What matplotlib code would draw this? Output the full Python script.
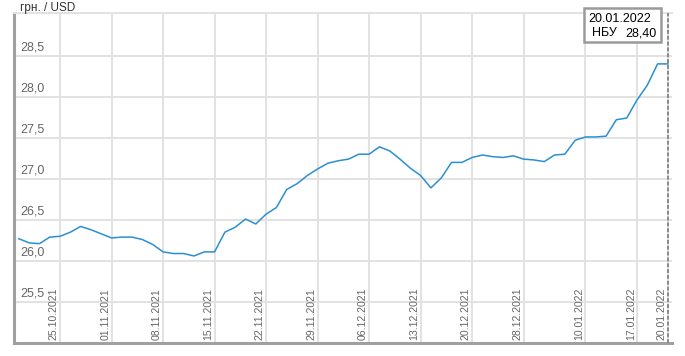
#!/usr/bin/env python3
"""NBU UAH/USD official rate, 19.10.2021 - 20.01.2022 (business days)."""

import matplotlib
matplotlib.use("Agg")
import matplotlib.pyplot as plt
from matplotlib.patches import Rectangle
from matplotlib.transforms import blended_transform_factory

# ---- Data -------------------------------------------------------------
dates = [
    "19.10.2021", "20.10.2021", "21.10.2021", "22.10.2021", "25.10.2021",
    "26.10.2021", "27.10.2021", "28.10.2021", "29.10.2021",
    "01.11.2021", "02.11.2021", "03.11.2021", "04.11.2021", "05.11.2021",
    "08.11.2021", "09.11.2021", "10.11.2021", "11.11.2021", "12.11.2021",
    "15.11.2021", "16.11.2021", "17.11.2021", "18.11.2021", "19.11.2021",
    "22.11.2021", "23.11.2021", "24.11.2021", "25.11.2021", "26.11.2021",
    "29.11.2021", "30.11.2021",
    "01.12.2021", "02.12.2021", "03.12.2021",
    "06.12.2021", "07.12.2021", "08.12.2021", "09.12.2021", "10.12.2021",
    "13.12.2021", "14.12.2021", "15.12.2021", "16.12.2021", "17.12.2021",
    "20.12.2021", "21.12.2021", "22.12.2021", "23.12.2021", "24.12.2021",
    "28.12.2021", "29.12.2021", "30.12.2021", "31.12.2021",
    "04.01.2022", "05.01.2022",
    "10.01.2022", "11.01.2022", "12.01.2022", "13.01.2022", "14.01.2022",
    "17.01.2022", "18.01.2022", "19.01.2022", "20.01.2022",
]
rates = [
    26.27, 26.22, 26.21, 26.29, 26.30, 26.35, 26.42, 26.38, 26.33,
    26.28, 26.29, 26.29, 26.26, 26.20,
    26.11, 26.09, 26.09, 26.06, 26.11,
    26.11, 26.35, 26.41, 26.51, 26.45,
    26.57, 26.65, 26.87, 26.94, 27.04,
    27.12, 27.19,
    27.22, 27.24, 27.30,
    27.30, 27.39, 27.34, 27.24, 27.13,
    27.04, 26.89, 27.01, 27.20, 27.20,
    27.26, 27.29, 27.27, 27.26, 27.28,
    27.24, 27.23, 27.21, 27.29,
    27.30, 27.47,
    27.51, 27.51, 27.52, 27.72, 27.74,
    27.96, 28.14, 28.40, 28.40,
]
tick_dates = ["25.10.2021", "01.11.2021", "08.11.2021", "15.11.2021",
              "22.11.2021", "29.11.2021", "06.12.2021", "13.12.2021",
              "20.12.2021", "28.12.2021", "10.01.2022", "17.01.2022",
              "20.01.2022"]
y_ticks = [25.5, 26.0, 26.5, 27.0, 27.5, 28.0, 28.5]

tip_date = "20.01.2022"
tip_label = "НБУ"
tip_value = "28,40"

# ---- Style ------------------------------------------------------------
plt.rcParams["font.family"] = ["Liberation Sans", "DejaVu Sans"]
GRID = "#e2e2e2"
AXIS = "#a0a0a0"
LABEL = "#666666"
LINE = "#2b8fd1"

W, H = 685, 356
fig = plt.figure(figsize=(W / 100, H / 100), dpi=100)
ax = fig.add_axes([14 / W, 13 / H, 658 / W, 330 / H])

x = list(range(len(dates)))
ax.plot(x, rates, color=LINE, linewidth=1.1, zorder=3)

ax.set_xlim(-0.47, 63.4)
ax.set_ylim(25.0, 29.02)

tick_pos = [dates.index(d) for d in tick_dates]
ax.set_xticks(tick_pos)
ax.set_yticks(y_ticks)
ax.tick_params(length=0, labelbottom=False, labelleft=False)
ax.grid(True, color=GRID, linewidth=1.4, zorder=0)

for side in ("left", "bottom"):
    ax.spines[side].set_color(AXIS)
    ax.spines[side].set_linewidth(2.2)
ax.spines["top"].set_color(GRID)
ax.spines["top"].set_linewidth(1.4)
ax.spines["right"].set_visible(False)

# tick labels sit inside the plot area
ty = blended_transform_factory(ax.transAxes, ax.transData)
for v in y_ticks:
    ax.text(0.009, v + 0.025, f"{v:.1f}".replace(".", ","), transform=ty,
            ha="left", va="bottom", fontsize=9, color=LABEL)

tx = blended_transform_factory(ax.transData, ax.transAxes)
for p, d in zip(tick_pos, tick_dates):
    ax.text(p - 0.12, 0.008, d, transform=tx, rotation=90,
            ha="right", va="bottom", fontsize=7.6, color=LABEL)

# hover marker on the last point
ax.axvline(x[-1], color="#8a8a8a", linestyle=(0, (2, 1)), linewidth=1.4,
           zorder=4)

fig.text(20 / W, 1 - 10.5 / H, "грн. / USD", fontsize=8.5, color="#333333",
         ha="left", va="baseline")

# tooltip box
fig.patches.append(Rectangle((584 / W, 1 - 42 / H), 77 / W, 34 / H,
                             transform=fig.transFigure, facecolor="white",
                             edgecolor="#9a9a9a", linewidth=1.8, zorder=10))
fig.text(588 / W, 1 - 21.5 / H, tip_date, fontsize=9, color="black",
         ha="left", va="baseline", zorder=11)
fig.text(592 / W, 1 - 36.5 / H, tip_label, fontsize=9, color="black",
         ha="left", va="baseline", zorder=11)
fig.text(657 / W, 1 - 36.5 / H, tip_value, fontsize=9, color="black",
         ha="right", va="baseline", zorder=11)

fig.savefig("out.png", dpi=100)
